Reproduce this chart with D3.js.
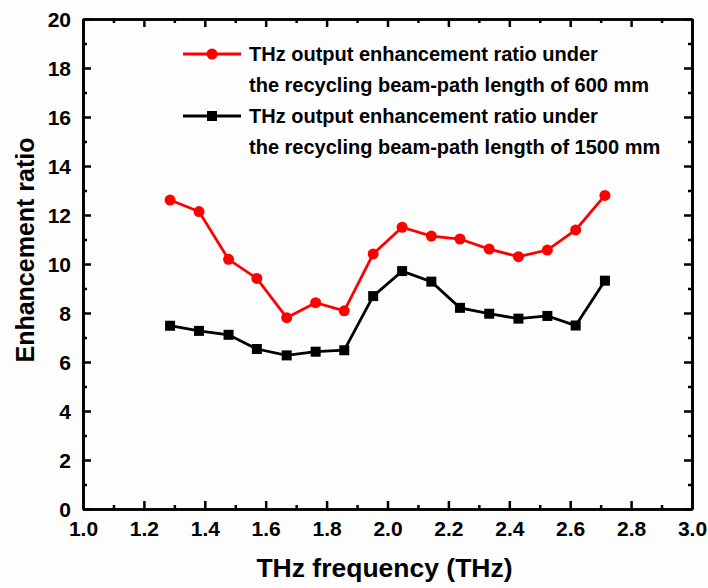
<!DOCTYPE html>
<html>
<head>
<meta charset="utf-8">
<script src="https://cdn.jsdelivr.net/npm/d3@7"></script>
<style>
    body { margin: 0; background: #fdfdfd; }
    svg { display: block; }
    text { font-family: "Liberation Sans", Arial, sans-serif; font-weight: bold; fill: #000; }
</style>
</head>
<body>
<svg id="chart" width="708" height="588"></svg>
<script>
// data
var freq = [1.286, 1.381, 1.478, 1.571, 1.669, 1.764, 1.858, 1.953, 2.048, 2.144, 2.238, 2.334, 2.430, 2.525, 2.618, 2.714];
var ratio600 = [12.61, 12.14, 10.19, 9.41, 7.81, 8.42, 8.09, 10.41, 11.50, 11.14, 11.02, 10.61, 10.30, 10.57, 11.39, 12.80];
var ratio1500 = [7.48, 7.27, 7.11, 6.53, 6.27, 6.42, 6.48, 8.69, 9.71, 9.28, 8.21, 7.97, 7.77, 7.88, 7.49, 9.32];
var xTicks = [1.0, 1.2, 1.4, 1.6, 1.8, 2.0, 2.2, 2.4, 2.6, 2.8, 3.0];
var xMinor = [1.1, 1.3, 1.5, 1.7, 1.9, 2.1, 2.3, 2.5, 2.7, 2.9];
var yTicks = [0, 2, 4, 6, 8, 10, 12, 14, 16, 18, 20];
var yMinor = [1, 3, 5, 7, 9, 11, 13, 15, 17, 19];
var legendLines = [
    ["THz output enhancement ratio under", "the recycling beam-path length of 600 mm"],
    ["THz output enhancement ratio under", "the recycling beam-path length of 1500 mm"]
];

var svg = d3.select("#chart");
var width = 708, height = 588;
var margin = {top: 19, right: 16, bottom: 79, left: 83};
var w = width - margin.left - margin.right,
    h = height - margin.top - margin.bottom;

var x = d3.scaleLinear().domain([1.0, 3.0]).range([0, w]);
var y = d3.scaleLinear().domain([0, 20]).range([h, 0]);

var g = svg.append("g")
    .attr("transform", "translate(" + margin.left + "," + margin.top + ")");

// minor ticks first, then major axes on top
function minorAxis(axis, vals) {
    return axis.tickValues(vals).tickSize(-4).tickSizeOuter(0).tickFormat("");
}

g.append("g").attr("transform", "translate(0," + h + ")")
    .call(minorAxis(d3.axisBottom(x), xMinor));
g.append("g")
    .call(minorAxis(d3.axisTop(x), xMinor));
g.append("g")
    .call(minorAxis(d3.axisLeft(y), yMinor));
g.append("g").attr("transform", "translate(" + w + ",0)")
    .call(minorAxis(d3.axisRight(y), yMinor));

var xAxis = g.append("g").attr("class", "axis")
    .attr("transform", "translate(0," + h + ")")
    .call(d3.axisBottom(x).tickValues(xTicks).tickSize(-8).tickSizeOuter(0)
        .tickPadding(12).tickFormat(d3.format(".1f")));
g.append("g").attr("class", "axis")
    .call(d3.axisTop(x).tickValues(xTicks).tickSize(-8).tickSizeOuter(0).tickFormat(""));
var yAxis = g.append("g").attr("class", "axis")
    .call(d3.axisLeft(y).tickValues(yTicks).tickSize(-8).tickSizeOuter(0)
        .tickPadding(12).tickFormat(d3.format("d")));
g.append("g").attr("class", "axis")
    .attr("transform", "translate(" + w + ",0)")
    .call(d3.axisRight(y).tickValues(yTicks).tickSize(-8).tickSizeOuter(0).tickFormat(""));

g.selectAll(".tick line").attr("stroke", "#000").attr("stroke-width", 2.5);
g.selectAll(".domain").attr("stroke", "#000").attr("stroke-width", 2.7);
g.selectAll(".tick text").style("font-size", "21px")
    .style("font-family", "'Liberation Sans', Arial, sans-serif").style("font-weight", "bold");
xAxis.selectAll(".tick text").attr("dy", "0.71em");
yAxis.selectAll(".tick text").attr("dy", "0.36em");

// axis titles
svg.append("text")
    .attr("x", margin.left + w / 2 - 3)
    .attr("y", 577)
    .attr("text-anchor", "middle")
    .style("font-size", "26.5px")
    .text("THz frequency (THz)");

svg.append("text")
    .attr("transform", "translate(34," + (margin.top + h / 2 - 14) + ") rotate(-90)")
    .attr("text-anchor", "middle")
    .style("font-size", "25px")
    .text("Enhancement ratio");

// series
var line = d3.line()
    .x(function (d) { return x(d[0]); })
    .y(function (d) { return y(d[1]); });

var redData = d3.zip(freq, ratio600);
var blackData = d3.zip(freq, ratio1500);

g.append("path").datum(blackData)
    .attr("d", line)
    .attr("fill", "none")
    .attr("stroke", "#000")
    .attr("stroke-width", 2.8);

g.selectAll(".sq").data(blackData).enter()
    .append("rect").attr("class", "sq")
    .attr("x", function (d) { return x(d[0]) - 5; })
    .attr("y", function (d) { return y(d[1]) - 5; })
    .attr("width", 10).attr("height", 10)
    .attr("fill", "#000");

g.append("path").datum(redData)
    .attr("d", line)
    .attr("fill", "none")
    .attr("stroke", "#ff0000")
    .attr("stroke-width", 2.8);

g.selectAll(".dot").data(redData).enter()
    .append("circle").attr("class", "dot")
    .attr("cx", function (d) { return x(d[0]); })
    .attr("cy", function (d) { return y(d[1]); })
    .attr("r", 5.5)
    .attr("fill", "#ff0000");

// legend
var legend = svg.append("g");
var legColors = ["#ff0000", "#000"];
var rowH = 31;
legendLines.forEach(function (lines, i) {
    var yy = 54 + i * 2 * rowH;
    legend.append("line")
        .attr("x1", 183).attr("x2", 241)
        .attr("y1", yy).attr("y2", yy)
        .attr("stroke", legColors[i])
        .attr("stroke-width", 2.8);
    if (i === 0) {
        legend.append("circle").attr("cx", 212).attr("cy", yy).attr("r", 5.5)
            .attr("fill", legColors[i]);
    } else {
        legend.append("rect").attr("x", 207).attr("y", yy - 5)
            .attr("width", 10).attr("height", 10).attr("fill", legColors[i]);
    }
    lines.forEach(function (t, j) {
        legend.append("text")
            .attr("x", 249)
            .attr("y", yy + 7 + j * rowH)
            .style("font-size", "20px")
            .text(t);
    });
});
</script>
</body>
</html>
